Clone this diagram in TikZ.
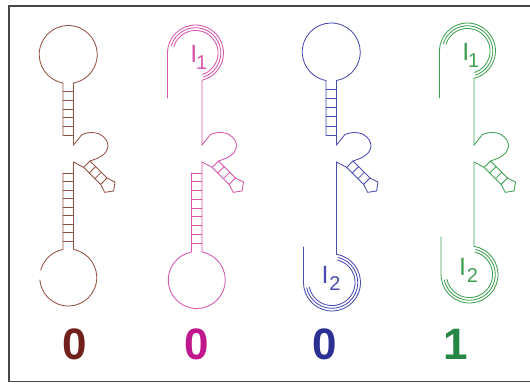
\documentclass[tikz,border=0pt]{standalone}
\usepackage{fontspec}
\setmainfont{Liberation Sans}

\definecolor{brownL}{RGB}{148,82,68}
\definecolor{brownD}{RGB}{112,33,28}
\definecolor{pinkL}{RGB}{214,86,172}
\definecolor{pinkD}{RGB}{192,24,140}
\definecolor{blueL}{RGB}{74,76,176}
\definecolor{blueD}{RGB}{44,48,146}
\definecolor{greenL}{RGB}{64,160,82}
\definecolor{greenD}{RGB}{38,134,68}

% Central part shared by every molecule: kink, internal loop,
% short side hairpin with its pentagonal loop, and the bulge peak.
\newcommand{\MidPart}{%
  \draw[strand] (0,145) -- plot[smooth, tension=0.55] coordinates
    {(8.5,134.5) (16.5,132.5) (26,134) (32.5,139.5) (34.5,146) (32,152.5) (25.5,157.5) (16.5,161)};
  \begin{scope}[shift={(16.5,161)}, rotate=-45]
    \draw[strand] (0,9) -- (0,0) -- (24,0) -- (32.56,-2.78) -- (37.85,4.5)
      -- (32.56,11.78) -- (24,9) -- (0,9);
    \draw[strand] (8,0) -- (8,9) (16,0) -- (16,9) (24,0) -- (24,9);
    \coordinate (lowstart) at (0,9);
  \end{scope}
  \draw[strand] (lowstart) -- (0,162);
}

% Upper stem-loop: loop centre height #1
\newcommand{\TopLadder}[1]{%
  \draw[strand] (-10.5,135) -- (-10.5,{#1+28.52})
    arc[start angle=100.4, end angle=439.6, radius=29] -- (0,145);
  \pgfmathsetmacro{\ya}{#1+28.52}
  \foreach \k in {1,...,6}{%
    \pgfmathsetmacro{\yy}{\ya+\k*(135-\ya)/6}
    \draw[strand] (-10.5,\yy) -- (0,\yy);}
}

% Upper loop opened by the bound strand I1: loop centre height #1
\newcommand{\TopHook}[1]{%
  \draw[strand] (-34.5,98) -- (-34.5,#1)
    arc[start angle=180, end angle=436.6, radius=28] -- (0,145);
  \draw[strand] ({-6.5+25.3*cos(197)},{#1+25.3*sin(197)})
    arc[start angle=197, end angle=432, radius=25.3];
  \draw[strand] ({-6.5+22.6*cos(197)},{#1+22.6*sin(197)})
    arc[start angle=197, end angle=432, radius=22.6];
  \node[lbl] at (-8.2,{#1+0.8}) {I};
  \node[sublbl] at (-0.4,{#1+10}) {1};
}

% Lower stem-loop: loop centre height #1, gap in the loop from #2 to #3 degrees
\newcommand{\BotLadder}[3]{%
  \draw[strand] (0,162) -- (0,{#1-28.01})
    arc[start angle=-79.4, end angle=#2, radius=28.5];
  \draw[strand] ({-5.25+28.5*cos(#3)},{#1+28.5*sin(#3)})
    arc[start angle=#3, end angle=259.4, radius=28.5] -- (-10.5,173);
  \pgfmathsetmacro{\yb}{#1-28.01}
  \foreach \k in {0,...,8}{%
    \pgfmathsetmacro{\yy}{173+\k*(\yb-173)/9}
    \draw[strand] (-10.5,\yy) -- (0,\yy);}
}

% Lower loop opened by the bound strand I2: loop centre height #1, free end at #2
\newcommand{\BotHook}[2]{%
  \draw[strand] (0,162) -- (0,{#1-28.14})
    arc[start angle=-80.9, end angle=180, radius=28.5] -- (-33,#2);
  \draw[strand] ({-4.5+25.8*cos(-76)},{#1+25.8*sin(-76)})
    arc[start angle=-76, end angle=168, radius=25.8];
  \draw[strand] ({-4.5+23.1*cos(-76)},{#1+23.1*sin(-76)})
    arc[start angle=-76, end angle=168, radius=23.1];
  \node[lbl] at (-11.5,{#1-8}) {I};
  \node[sublbl] at (-1.5,{#1+1}) {2};
}

\begin{document}
\begin{tikzpicture}[x=1pt, y=-1pt,
  strand/.style={line width=0.85pt, line join=round, line cap=round},
  lbl/.style={inner sep=0pt, font=\fontsize{25}{25}\selectfont},
  sublbl/.style={inner sep=0pt, font=\fontsize{20}{20}\selectfont},
  digit/.style={inner sep=0pt, font=\fontsize{44}{44}\selectfont\bfseries}]

\useasboundingbox (0,0) rectangle (530,384);
\fill[white] (0,0) rectangle (530,384);

% frame, open to the right
\draw[line width=1.6pt, draw=black!72] (532,6) -- (9,6) -- (9,381.5) -- (532,381.5);

% molecule 1: both stem-loops closed
\begin{scope}[shift={(73.5,0)}, color=brownL]
  \TopLadder{54.5}
  \MidPart
  \BotLadder{277.5}{175}{195}
\end{scope}

% molecule 2: I1 bound to the upper loop
\begin{scope}[shift={(202,0)}, color=pinkL]
  \TopHook{53}
  \MidPart
  \BotLadder{280}{175}{175}
\end{scope}

% molecule 3: I2 bound to the lower loop
\begin{scope}[shift={(336.5,0)}, color=blueL]
  \TopLadder{52}
  \MidPart
  \BotHook{282.5}{247}
\end{scope}

% molecule 4: I1 and I2 bound
\begin{scope}[shift={(474,0)}, color=greenL]
  \TopHook{51}
  \MidPart
  \BotHook{274.5}{237}
\end{scope}

% outputs
\node[digit, text=brownD] (out1) at (75,344) {0};
\node[digit, text=pinkD]  (out2) at (197,344) {0};
\node[digit, text=blueD]  (out3) at (325,344) {0};
\node[digit, text=greenD] (out4) at (456,344) {1};
\end{tikzpicture}
\end{document}
